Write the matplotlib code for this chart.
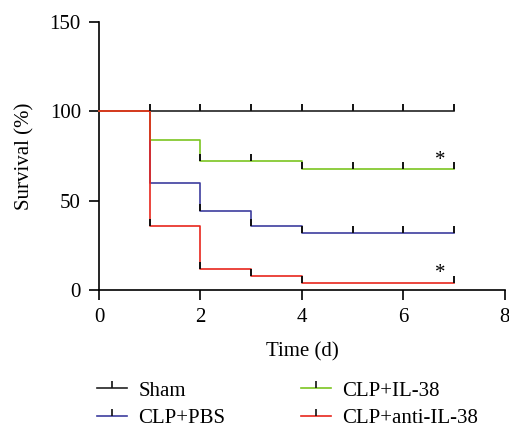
import matplotlib
matplotlib.use("Agg")
import matplotlib.pyplot as plt
from matplotlib.lines import Line2D

plt.rcParams['font.family'] = ['Liberation Serif', 'DejaVu Serif']

# survival curves (days, percent) - step changes
groups = ['Sham', 'CLP+PBS', 'CLP+IL-38', 'CLP+anti-IL-38']
sham_t = [0, 7]
sham_s = [100, 100]
pbs_t = [0, 1, 2, 3, 4, 7]
pbs_s = [100, 60, 44, 36, 32, 32]
il38_t = [0, 1, 2, 4, 7]
il38_s = [100, 84, 72, 68, 68]
anti_t = [0, 1, 2, 3, 4, 7]
anti_s = [100, 36, 12, 8, 4, 4]

# censor marks (day, percent)
sham_cens = ([1, 2, 3, 4, 5, 6, 7], [100] * 7)
pbs_cens = ([2, 3, 4, 5, 6, 7], [44, 36, 32, 32, 32, 32])
il38_cens = ([2, 3, 4, 5, 6, 7], [72, 72, 68, 68, 68, 68])
anti_cens = ([1, 2, 3, 4, 7], [36, 12, 8, 4, 4])

stars = [(6.72, 72.5), (6.72, 9.5)]

colors = ['#222222', '#3d3d9e', '#7cc520', '#e8261d']

fig = plt.figure(figsize=(5.1, 4.29), dpi=100)
ax = fig.add_axes([0.194, 0.324, 0.796, 0.6247])

series = [(sham_t, sham_s, sham_cens), (pbs_t, pbs_s, pbs_cens),
          (il38_t, il38_s, il38_cens), (anti_t, anti_s, anti_cens)]
zorders = [2, 3, 3, 4]
for (t, s, cens), c, z in zip(series, colors, zorders):
    ax.step(t, s, where='post', color=c, lw=1.2, zorder=z, clip_on=False)
    ax.plot(cens[0], cens[1], ls='none', marker=2, ms=5, mew=1.4,
            color='#111111', zorder=5, clip_on=False)

for x, y in stars:
    ax.text(x, y, '*', ha='center', va='center', fontsize=15)

ax.set_xlim(0, 8)
ax.set_ylim(0, 150)
ax.set_xticks([0, 2, 4, 6, 8])
ax.set_yticks([0, 50, 100, 150])
for side in ['top', 'right']:
    ax.spines[side].set_visible(False)
for side in ['left', 'bottom']:
    ax.spines[side].set_linewidth(1.2)
ax.tick_params(direction='out', length=7, width=1.2, labelsize=15, pad=6)
ax.set_xlabel('Time (d)', fontsize=15, labelpad=11)
ax.set_ylabel('Survival (%)', fontsize=15, labelpad=11)

handles = [Line2D([], [], color=c, lw=1.2, marker=2, ms=5, mew=1.2,
                  markeredgecolor='#111111') for c in colors]
fig.legend(handles, groups, ncol=2, loc='upper left',
           bbox_to_anchor=(0.19, 0.112), frameon=False, fontsize=15,
           handlelength=1.45, handletextpad=0.55, columnspacing=3.6,
           labelspacing=0.38, borderpad=0, borderaxespad=0, numpoints=1)

fig.savefig('out.png', dpi=100)
